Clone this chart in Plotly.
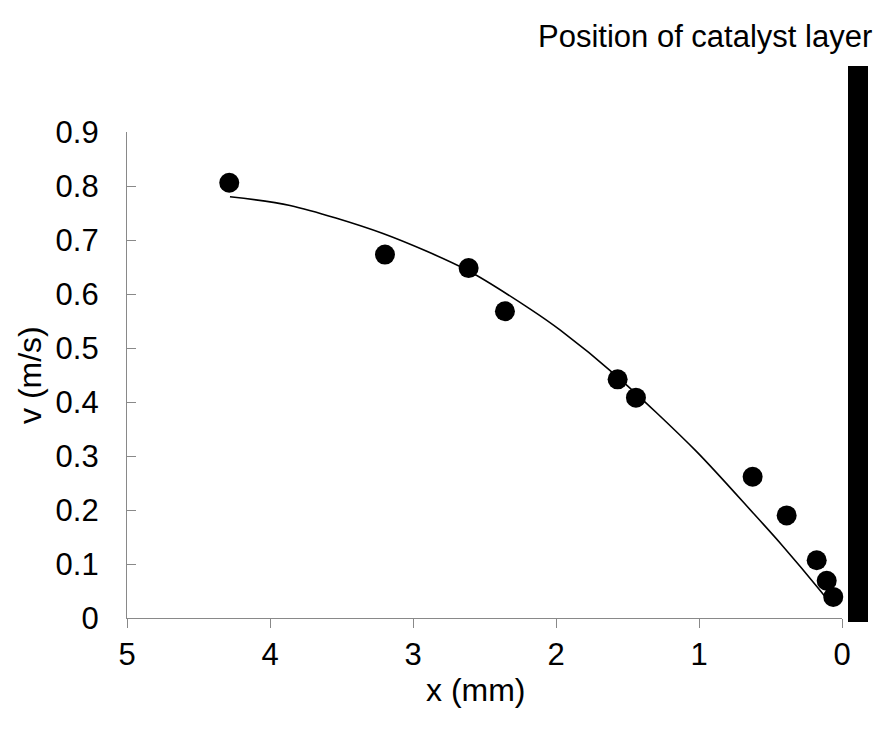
import plotly.graph_objects as go

# measured data points
x_mm = [4.285, 3.196, 2.611, 2.357, 1.569, 1.441, 0.625, 0.387, 0.177, 0.107, 0.061]
v_ms = [0.806, 0.673, 0.648, 0.568, 0.442, 0.408, 0.2615, 0.190, 0.107, 0.069, 0.039]

# trend line
trend_x = [4.28, 3.86, 3.21, 2.62, 2.18, 1.97, 1.58, 1.02, 0.62, 0.43, 0.15, 0.07]
trend_v = [0.780, 0.764, 0.712, 0.644, 0.572, 0.533, 0.449, 0.309, 0.194, 0.138, 0.050, 0.023]

x_ticks = [5, 4, 3, 2, 1, 0]
y_ticks = [0, 0.1, 0.2, 0.3, 0.4, 0.5, 0.6, 0.7, 0.8, 0.9]

FONT = "Arial, Liberation Sans, sans-serif"
FS = 31
AXC = "#898989"

W, H = 885, 733
L, R, T, B = 127, 43, 132, 115
pw, ph = W - L - R, H - T - B

fig = go.Figure()
fig.add_trace(go.Scatter(x=trend_x, y=trend_v, mode="lines",
                         line=dict(color="black", width=1.6, shape="spline", smoothing=0.8),
                         hoverinfo="skip", showlegend=False))
fig.add_trace(go.Scatter(x=x_mm, y=v_ms, mode="markers",
                         marker=dict(color="black", size=20, line=dict(width=0)),
                         showlegend=False, cliponaxis=False))

def px_x(p):
    return (p - L) / pw

def px_y(p):
    return (H - B - p) / ph

fig.add_shape(type="rect", xref="paper", yref="paper",
              x0=px_x(848), x1=px_x(868), y0=px_y(622), y1=px_y(66),
              fillcolor="black", line=dict(width=0))

fig.add_annotation(text="Position of catalyst layer", xref="paper", yref="paper",
                   x=px_x(874), y=px_y(37), xanchor="right", yanchor="middle",
                   showarrow=False, font=dict(family=FONT, size=FS, color="black"))
fig.add_annotation(text="x (mm)", xref="paper", yref="paper",
                   x=px_x(476), y=px_y(690), xanchor="center", yanchor="middle",
                   showarrow=False, font=dict(family=FONT, size=FS + 1, color="black"))
fig.add_annotation(text="v (m/s)", xref="paper", yref="paper", textangle=-90,
                   x=px_x(30), y=0.5, xanchor="center", yanchor="middle",
                   showarrow=False, font=dict(family=FONT, size=FS + 1, color="black"))

fig.update_layout(
    width=W, height=H,
    margin=dict(l=L, r=R, t=T, b=B, pad=0),
    paper_bgcolor="white", plot_bgcolor="white",
    font=dict(family=FONT, size=FS, color="black"),
    showlegend=False,
)
fig.update_xaxes(range=[5, 0], tickvals=x_ticks, ticktext=[str(t) for t in x_ticks],
                 showgrid=False, zeroline=False, showline=True, linecolor=AXC, linewidth=1.3,
                 ticks="outside", ticklen=9, tickcolor=AXC, tickwidth=1.3,
                 tickfont=dict(family=FONT, size=FS, color="black"))
fig.update_yaxes(range=[0, 0.9], tickvals=y_ticks, ticktext=[f"{t:g}" for t in y_ticks],
                 showgrid=False, zeroline=False, showline=True, linecolor=AXC, linewidth=1.3,
                 ticks="inside", ticklen=9, tickcolor=AXC, tickwidth=1.3,
                 ticklabelstandoff=21,
                 tickfont=dict(family=FONT, size=FS, color="black"))

fig.write_html("out.html")
